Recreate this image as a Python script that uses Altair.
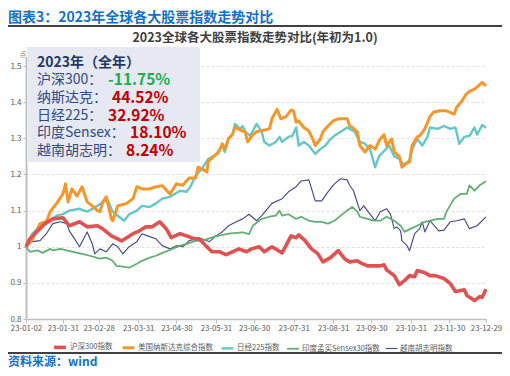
import altair as alt
import pandas as pd

FONT = "Noto Sans CJK SC"
START = pd.Timestamp("2023-01-02")

series_names = ["沪深300指数", "美国纳斯达克综合指数", "日经225指数", "印度孟买Sensex30指数", "越南胡志明指数"]
series_colors = ["#E05252", "#F5962A", "#63C6C8", "#62AE72", "#3F4C8F"]
series_widths = [3.6, 1.15, 1.15, 1.15, 1.15]

hs300_dates = ("01-02 01-05 01-17 01-23 01-31 02-05 02-13 02-19 02-27 03-03 03-10 03-18 03-27 04-01 04-06 "
               "04-11 04-17 04-22 04-26 05-03 05-08 05-14 05-18 05-23 05-28 06-03 06-08 06-13 06-18 06-24 "
               "06-28 07-04 07-08 07-14 07-22 07-25 07-29 08-02 08-04 08-09 08-14 08-19 08-23 08-29 09-04 "
               "09-09 09-13 09-19 09-23 09-27 10-07 10-10 10-12 10-18 10-22 10-26 10-30 11-03 11-05 11-11 "
               "11-15 11-19 11-26 12-01 12-05 12-12 12-14 12-20 12-24 12-26 12-29").split()
hs300_values = [1.0, 1.022, 1.064, 1.077, 1.08, 1.058, 1.069, 1.055, 1.058, 1.05, 1.03, 1.016, 1.036, 1.044, 1.055,
                1.055, 1.069, 1.05, 1.025, 1.036, 1.03, 1.022, 1.022, 1.003, 0.986, 0.986, 0.978, 0.986, 0.994, 0.986,
                0.994, 1.0, 0.986, 1.0, 0.983, 1.003, 1.03, 1.025, 1.033, 1.017, 0.994, 0.981, 0.958, 0.97, 0.989,
                0.967, 0.958, 0.961, 0.953, 0.947, 0.947, 0.95, 0.936, 0.92, 0.895, 0.906, 0.92, 0.917, 0.934, 0.928,
                0.92, 0.92, 0.912, 0.898, 0.876, 0.881, 0.865, 0.851, 0.862, 0.86, 0.8825]

nasdaq_dates = ("01-02 01-07 01-13 01-18 01-21 01-26 01-31 02-02 02-04 02-07 02-11 02-15 02-19 02-23 02-27 "
                "03-01 03-03 03-06 03-10 03-11 03-15 03-22 03-27 03-30 04-03 04-09 04-14 04-19 04-25 04-30 "
                "05-05 05-10 05-15 05-17 05-20 05-24 05-25 05-29 06-02 06-05 06-07 06-10 06-13 06-15 06-21 "
                "06-23 06-25 06-29 07-02 07-12 07-14 07-18 07-21 07-25 07-29 07-31 08-02 08-04 08-08 08-12 "
                "08-15 08-17 08-21 08-23 08-27 08-31 09-04 09-11 09-13 09-15 09-19 09-21 09-25 09-29 10-03 "
                "10-07 10-10 10-12 10-16 10-18 10-22 10-24 10-27 10-30 11-01 11-05 11-07 11-11 11-15 11-18 "
                "11-23 11-28 12-04 12-06 12-10 12-13 12-16 12-20 12-23 12-26 12-29").split()
nasdaq_values = [1.0, 1.02, 1.064, 1.07, 1.097, 1.12, 1.146, 1.174, 1.124, 1.16, 1.14, 1.166, 1.124, 1.113, 1.1,
                 1.097, 1.12, 1.138, 1.077, 1.072, 1.113, 1.12, 1.133, 1.166, 1.16, 1.16, 1.166, 1.169, 1.146, 1.174,
                 1.17, 1.19, 1.19, 1.22, 1.215, 1.207, 1.235, 1.25, 1.26, 1.285, 1.27, 1.3, 1.31, 1.33, 1.32,
                 1.318, 1.29, 1.31, 1.318, 1.326, 1.354, 1.38, 1.354, 1.36, 1.378, 1.375, 1.345, 1.348, 1.33, 1.32,
                 1.298, 1.28, 1.298, 1.318, 1.334, 1.348, 1.354, 1.354, 1.334, 1.33, 1.318, 1.28, 1.262, 1.28, 1.27,
                 1.298, 1.31, 1.28, 1.298, 1.262, 1.25, 1.22, 1.23, 1.235, 1.28, 1.304, 1.307, 1.326, 1.36, 1.373,
                 1.376, 1.376, 1.367, 1.386, 1.403, 1.42, 1.43, 1.436, 1.445, 1.455, 1.4452]

nikkei_dates = ("01-02 01-07 01-15 01-21 01-26 01-31 02-05 02-13 02-19 02-27 03-02 03-06 03-11 03-16 03-20 "
                "03-24 03-30 04-03 04-09 04-14 04-19 04-25 05-03 05-08 05-11 05-15 05-20 05-25 05-30 06-05 "
                "06-07 06-10 06-13 06-15 06-19 06-21 06-23 06-27 07-02 07-06 07-08 07-12 07-17 07-20 07-22 "
                "07-27 07-30 08-02 08-04 08-08 08-12 08-17 08-21 08-25 08-29 09-01 09-06 09-11 09-17 09-21 "
                "09-25 09-29 10-03 10-06 10-10 10-14 10-18 10-22 10-26 10-30 11-01 11-05 11-09 11-13 11-15 "
                "11-21 11-26 12-01 12-05 12-08 12-12 12-16 12-20 12-22 12-26 12-29").split()
nikkei_values = [1.0, 1.036, 1.064, 1.072, 1.086, 1.09, 1.1, 1.105, 1.097, 1.113, 1.12, 1.138, 1.097, 1.083, 1.072,
                 1.09, 1.1, 1.113, 1.11, 1.12, 1.133, 1.138, 1.155, 1.152, 1.166, 1.196, 1.215, 1.243, 1.25, 1.28,
                 1.262, 1.298, 1.31, 1.34, 1.326, 1.334, 1.318, 1.307, 1.34, 1.318, 1.29, 1.28, 1.29, 1.304, 1.29,
                 1.304, 1.307, 1.33, 1.28, 1.29, 1.28, 1.257, 1.27, 1.28, 1.298, 1.307, 1.318, 1.33, 1.318, 1.29,
                 1.285, 1.27, 1.22, 1.25, 1.265, 1.28, 1.25, 1.243, 1.225, 1.24, 1.27, 1.298, 1.28, 1.304, 1.33,
                 1.326, 1.334, 1.326, 1.33, 1.285, 1.304, 1.307, 1.33, 1.31, 1.337, 1.3292]

sensex_dates = ("01-02 01-05 01-11 01-15 01-21 01-23 01-29 02-03 02-08 02-15 02-21 03-01 03-06 03-11 03-14 "
                "03-19 03-24 03-30 04-03 04-09 04-14 04-19 04-25 05-03 05-08 05-15 05-20 05-30 06-10 06-21 "
                "06-26 06-29 07-04 07-06 07-12 07-17 07-20 07-22 07-27 08-02 08-06 08-12 08-17 08-22 08-27 "
                "09-01 09-06 09-11 09-15 09-19 09-21 09-27 10-02 10-07 10-12 10-18 10-23 10-26 10-31 11-05 "
                "11-11 11-15 11-21 11-26 11-28 12-04 12-09 12-14 12-16 12-20 12-24 12-29").split()
sensex_values = [1.0, 0.986, 0.99, 0.983, 0.994, 0.99, 0.994, 0.99, 0.986, 0.98, 0.975, 0.967, 0.97, 0.961, 0.947,
                 0.945, 0.942, 0.953, 0.961, 0.97, 0.975, 0.983, 0.991, 1.003, 1.008, 1.016, 1.016, 1.028, 1.036, 1.04,
                 1.035, 1.058, 1.072, 1.077, 1.083, 1.086, 1.1, 1.086, 1.09, 1.077, 1.083, 1.072, 1.069, 1.069, 1.064,
                 1.072, 1.086, 1.1, 1.11, 1.097, 1.083, 1.077, 1.072, 1.072, 1.083, 1.072, 1.058, 1.041, 1.05, 1.058,
                 1.069, 1.072, 1.077, 1.077, 1.097, 1.133, 1.146, 1.146, 1.17, 1.155, 1.17, 1.181]

vietnam_dates = ("01-02 01-07 01-13 01-18 01-23 01-29 02-03 02-05 02-08 02-13 02-19 02-23 02-25 03-01 03-06 "
                 "03-11 03-15 03-19 03-24 03-30 04-03 04-09 04-14 04-19 04-25 04-30 05-05 05-10 05-16 05-20 "
                 "05-26 05-31 06-05 06-10 06-16 06-21 06-26 07-02 07-06 07-14 07-22 07-27 08-02 08-06 08-12 "
                 "08-17 08-22 08-27 09-01 09-06 09-11 09-13 09-16 09-21 09-24 09-29 10-03 10-07 10-12 10-15 "
                 "10-18 10-20 10-23 10-24 10-28 10-30 11-03 11-07 11-09 11-11 11-15 11-18 11-22 11-26 12-01 "
                 "12-06 12-12 12-16 12-22 12-29").split()
vietnam_values = [1.0, 1.014, 1.017, 1.036, 1.064, 1.069, 1.064, 1.044, 1.028, 1.0, 1.041, 1.008, 0.98, 0.994, 0.986,
                  1.008, 1.0, 0.98, 1.0, 1.014, 1.036, 1.028, 1.022, 1.003, 0.994, 1.003, 1.0, 1.017, 1.022, 1.022,
                  1.014, 1.03, 1.041, 1.058, 1.069, 1.077, 1.09, 1.072, 1.086, 1.12, 1.133, 1.152, 1.166, 1.182, 1.185,
                  1.127, 1.127, 1.152, 1.174, 1.188, 1.185, 1.17, 1.155, 1.1, 1.113, 1.09, 1.072, 1.097, 1.105, 1.09,
                  1.05, 1.055, 1.044, 1.017, 1.003, 0.989, 1.036, 1.05, 1.069, 1.041, 1.072, 1.06, 1.044, 1.046, 1.069,
                  1.072, 1.077, 1.05, 1.058, 1.0824]

tick_dates = ["2023-01-02", "2023-01-31", "2023-02-28", "2023-03-31", "2023-04-30", "2023-05-31", "2023-06-30",
              "2023-07-31", "2023-08-31", "2023-09-30", "2023-10-31", "2023-11-30", "2023-12-29"]
y_ticks = [0.8, 0.9, 1.0, 1.1, 1.2, 1.3, 1.4, 1.5]

main_title = "图表3：2023年全球各大股票指数走势对比"
chart_title = "2023全球各大股票指数走势对比(年初为1.0)"
source_text = "资料来源：wind"
box_title = "2023年（全年）"
box_labels = ["沪深300：", "纳斯达克：", "日经225：", "印度Sensex：", "越南胡志明："]
box_values = ["-11.75%", "44.52%", "32.92%", "18.10%", "8.24%"]
box_value_colors = ["#1BAF4B", "#C00000", "#C00000", "#C00000", "#C00000"]

series_data = [(hs300_dates, hs300_values), (nasdaq_dates, nasdaq_values), (nikkei_dates, nikkei_values),
               (sensex_dates, sensex_values), (vietnam_dates, vietnam_values)]

rows = []
# draw first series (CSI 300) last so it sits on top
for name, (dates, vals) in reversed(list(zip(series_names, series_data))):
    assert len(dates) == len(vals), (name, len(dates), len(vals))
    for d, v in zip(dates, vals):
        rows.append({"series": name, "day": (pd.Timestamp("2023-" + d) - START).days, "value": v})
df = pd.DataFrame(rows)
tick_days = [(pd.Timestamp(t) - START).days for t in tick_dates]

legend_cfg = dict(title=None, orient="none", legendX=26, legendY=282, padding=0,
                  direction="horizontal", symbolType="stroke", symbolSize=140,
                  labelFont=FONT, labelFontSize=7.5, labelColor="#595959",
                  columnPadding=3, labelOffset=2)

lines = alt.Chart(df).mark_line(strokeJoin="round").encode(
    x=alt.X("day:Q", title=None,
            scale=alt.Scale(domain=[0, 361], nice=False, zero=False),
            axis=alt.Axis(values=tick_days, grid=False, labelFlush=False, labelOverlap=False,
                          labelExpr="utcFormat(utc(2023, 0, 2 + datum.value), '%y-%m-%d')",
                          labelFont=FONT, labelFontSize=7.8, labelColor="#595959",
                          domainColor="#BFBFBF", domainWidth=1.5, tickColor="#BFBFBF",
                          tickSize=4, labelPadding=1)),
    y=alt.Y("value:Q", title=None,
            scale=alt.Scale(domain=[0.8, 1.525], nice=False, zero=False),
            axis=alt.Axis(values=y_ticks, format=".1~f", labelFont=FONT, labelFontSize=8,
                          labelColor="#595959", domainColor="#BFBFBF", domainWidth=2,
                          tickColor="#BFBFBF", tickSize=3, labelPadding=2,
                          gridColor="#D9D9D9", gridDash=[3, 2], gridWidth=0.8)),
    color=alt.Color("series:N", scale=alt.Scale(domain=series_names, range=series_colors),
                    legend=alt.Legend(**legend_cfg)),
    strokeWidth=alt.StrokeWidth("series:N", scale=alt.Scale(domain=series_names, range=series_widths),
                                legend=alt.Legend(**legend_cfg)),
)

dummy = pd.DataFrame({"k": [0]})


def txt(text, x, y, size, color, weight="normal", align="left"):
    return alt.Chart(dummy).mark_text(text=text, font=FONT, fontSize=size, color=color,
                                      fontWeight=weight, align=align, baseline="middle").encode(
        x=alt.value(x), y=alt.value(y))


def hrule(y, x1, x2, color, w):
    return alt.Chart(dummy).mark_rule(color=color, strokeWidth=w).encode(
        x=alt.value(x1), x2=alt.value(x2), y=alt.value(y))


box = alt.Chart(dummy).mark_rect(color="#E6E8F2").encode(
    x=alt.value(1), x2=alt.value(174), y=alt.value(-10), y2=alt.value(105))

layers = [box, lines]
layers.append(txt(main_title, -18, -39.5, 14, "#1272C4", "bold"))
layers.append(hrule(-31, -20, 484, "#000000", 1.5))
layers.append(txt(chart_title, 229, -19, 12.5, "#404040", "bold", "center"))
layers.append(txt("点", -3, -2, 7, "#7F7F7F", "normal", "center"))
layers.append(txt(box_title, 11, 6, 14, "#1F3864", "bold"))
label_y = [23, 41, 59, 76, 94]
value_x = [82, 86, 82, 104, 100]
for lab, val, col, yy, xx in zip(box_labels, box_values, box_value_colors, label_y, value_x):
    layers.append(txt(lab, 11, yy, 14, "#2F4A86"))
    layers.append(txt(val, xx, yy, 15.5, col, "bold"))
layers.append(hrule(296, -20, 484, "#000000", 1.5))
layers.append(txt(source_text, -18, 304.5, 12, "#1272C4", "bold"))

chart = alt.layer(*layers).properties(
    width=460, height=262,
    autosize=alt.AutoSizeParams(type="none"),
    padding={"left": 18, "top": 49, "right": 16, "bottom": 49},
    background="white",
).configure_view(stroke=None)

chart.save("out.html", embed_options={"renderer": "svg", "actions": False})
